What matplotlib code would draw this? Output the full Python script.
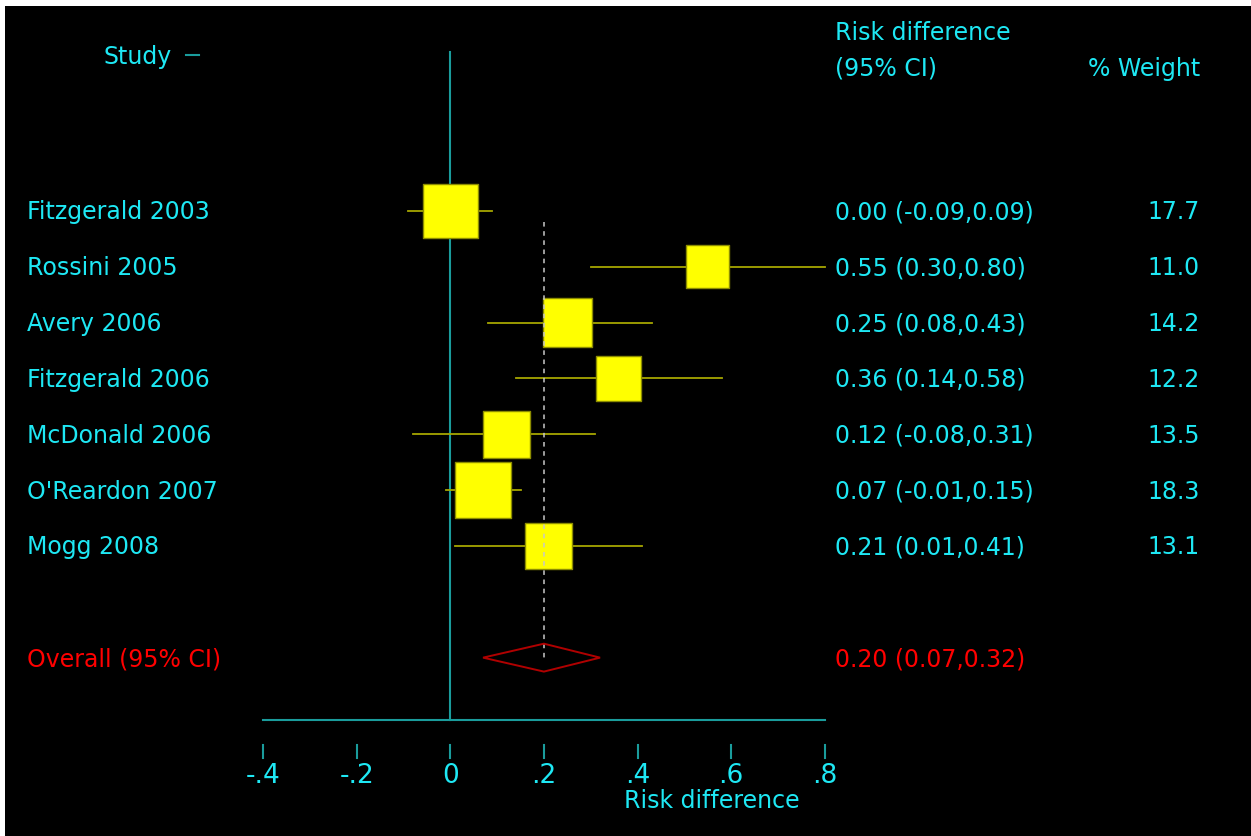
import matplotlib.pyplot as plt
from matplotlib.patches import Polygon

# данные из рисунка
studies = ["Fitzgerald 2003", "Rossini 2005", "Avery 2006", "Fitzgerald 2006",
           "McDonald 2006", "O'Reardon 2007", "Mogg 2008"]
rd = [0.00, 0.55, 0.25, 0.36, 0.12, 0.07, 0.21]
lo = [-0.09, 0.30, 0.08, 0.14, -0.08, -0.01, 0.01]
hi = [0.09, 0.80, 0.43, 0.58, 0.31, 0.15, 0.41]
weight = [17.7, 11.0, 14.2, 12.2, 13.5, 18.3, 13.1]
overall = (0.20, 0.07, 0.32)
xticks = [-0.4, -0.2, 0, 0.2, 0.4, 0.6, 0.8]
xticklabels = ["-.4", "-.2", "0", ".2", ".4", ".6", ".8"]

cyan = '#1ee8f4'
teal = '#1a9c9c'

W, H = 1251, 836
fig = plt.figure(figsize=(W / 100, H / 100), dpi=100, facecolor='white')
ax = fig.add_axes([5 / W, 0, 1 - 5 / W, 1 - 6 / H])
ax.set_facecolor('black')
ax.set_xticks([])
ax.set_yticks([])
for s in ax.spines.values():
    s.set_visible(False)

# пиксели -> координаты: x = 450.3 + 468*v, y = 211 + 55.83*r
px = lambda p: (p - 450.3) / 468
py = lambda p: (p - 211) / 55.83
ax.set_xlim(px(5), px(W))
ax.set_ylim(py(H), py(6))

rows = list(range(len(studies)))
r_over = len(studies) + 1
base = 0.15

# линии
ax.plot([0, 0], [py(52), py(720)], color=teal, lw=1.5, zorder=1)
ax.plot([xticks[0], xticks[-1]], [py(720), py(720)], color=teal, lw=1.5, zorder=1)
for t in xticks:
    ax.plot([t, t], [py(745), py(758)], color=teal, lw=1.5)
ax.plot([px(186), px(199)], [py(55), py(55)], color=teal, lw=1.5)

# доверительные интервалы и квадраты
for r, l, h in zip(rows, lo, hi):
    ax.plot([l, h], [r, r], color='#a6a600', lw=1.3, zorder=2)
ax.scatter(rd, rows, s=[87 * w for w in weight], marker='s', color='#ffff00',
           edgecolors='#8c8c00', linewidths=1, zorder=3)

# общий эффект
ax.plot([overall[0], overall[0]], [0.2, r_over], color='#c8c8c8', lw=1.1,
        dashes=(3, 3), zorder=4)
dh = 0.25
ax.add_patch(Polygon([(overall[1], r_over), (overall[0], r_over - dh),
                      (overall[2], r_over), (overall[0], r_over + dh)],
                     closed=True, fill=False, edgecolor='#b00000', lw=1.4, zorder=4))

fs = 17
for r, name, e, l, h, w in zip(rows, studies, rd, lo, hi, weight):
    ax.text(px(27), r + base, name, color=cyan, fontsize=fs, va='baseline', ha='left')
    ax.text(px(835), r + base, "%.2f (%.2f,%.2f)" % (e, l, h), color=cyan,
            fontsize=fs, va='baseline', ha='left')
    ax.text(px(1200), r + base, "%.1f" % w, color=cyan, fontsize=fs,
            va='baseline', ha='right')

ax.text(px(27), r_over + base, "Overall (95% CI)", color='#ff0000', fontsize=fs,
        va='baseline', ha='left')
ax.text(px(835), r_over + base, "%.2f (%.2f,%.2f)" % overall, color='#ff0000',
        fontsize=fs, va='baseline', ha='left')

# заголовки
ax.text(px(138), py(64), "Study", color=cyan, fontsize=fs, va='baseline', ha='center')
ax.text(px(835), py(40), "Risk difference", color=cyan, fontsize=fs, va='baseline', ha='left')
ax.text(px(835), py(76), "(95% CI)", color=cyan, fontsize=fs, va='baseline', ha='left')
ax.text(px(1200), py(76), "% Weight", color=cyan, fontsize=fs, va='baseline', ha='right')

# ось
for t, lab in zip(xticks, xticklabels):
    ax.text(t, py(783), lab, color=cyan, fontsize=19, va='baseline', ha='center')
ax.text(px(712), py(808), "Risk difference", color=cyan, fontsize=17,
        va='baseline', ha='center')

fig.savefig('out.png', dpi=100, facecolor=fig.get_facecolor())
